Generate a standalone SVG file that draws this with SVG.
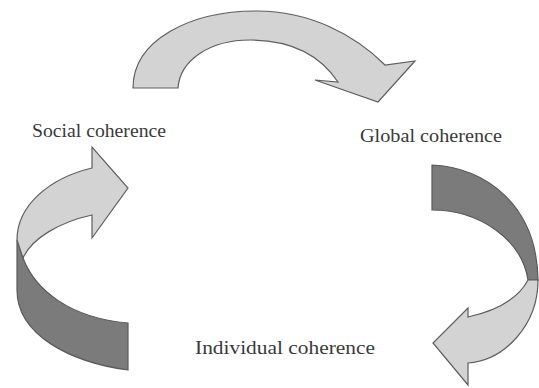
<svg xmlns="http://www.w3.org/2000/svg" width="539" height="388" viewBox="0 0 539 388">
<style>
.light{fill:#d3d3d3;stroke:#5e5e5e;stroke-width:1.2;stroke-linejoin:miter}
.dark{fill:#7b7b7b;stroke:#5a5a5a;stroke-width:1.2;stroke-linejoin:miter}
.lbl{font-family:"Liberation Serif","Times New Roman",serif;font-size:19px;fill:#3a3a3a}
</style>
<rect width="539" height="388" fill="#ffffff"/>
<g id="connectors">
<g id="arrow-top">
<path class="light" d="M133,88 C133,40 190,11 257,11 C310,11 355,35 385,65 L415,61 L378,102 L315,80 L338,82 C320,55 290,40 250,40 C210,40 180,60 178,88 Z"/>
</g>
<g id="arrow-right">
<path class="dark" d="M432,165 C485,167 537,205 538,280 L528,280 C522,240 480,210 432,210 Z"/>
<path class="light" d="M538,280 C538,325 505,360 468,363 L468,385 L433,343 L468,308 L468,317 C495,311 518,299 528,280 Z"/>
</g>
<g id="arrow-left">
<path class="dark" d="M17,240 L23,258 C35,290 70,318 128,323 L128,370 C70,362 17,335 17,290 Z"/>
<path class="light" d="M17,240 C17,205 50,178 92,168 L92,147 L128,188 L92,238 L92,215 C60,222 32,238 23,258 Z"/>
</g>
</g>
<g id="node-social"><text class="lbl" x="32" y="137" textLength="134" lengthAdjust="spacingAndGlyphs">Social coherence</text></g>
<g id="node-global"><text class="lbl" x="360" y="142" textLength="142" lengthAdjust="spacingAndGlyphs">Global coherence</text></g>
<g id="node-individual"><text class="lbl" x="195" y="354" textLength="180" lengthAdjust="spacingAndGlyphs">Individual coherence</text></g>
</svg>
